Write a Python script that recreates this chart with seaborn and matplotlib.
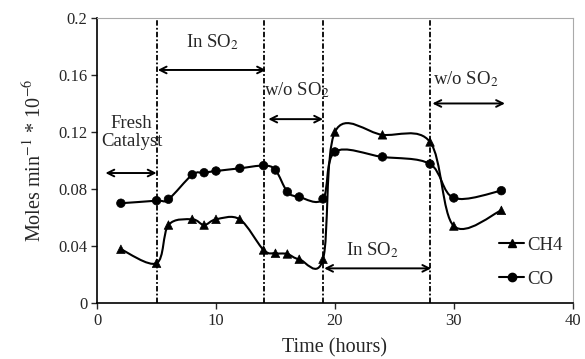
import matplotlib
matplotlib.use("Agg")
import matplotlib.pyplot as plt
from matplotlib.path import Path
from matplotlib.patches import PathPatch
from matplotlib.lines import Line2D
import numpy as np
import pandas as pd
import seaborn as sns

# Data
time_h = [2, 5, 6, 8, 9, 10, 12, 14, 15, 16, 17, 19, 20, 24, 28, 30, 34]
ch4 = [0.0377, 0.0279, 0.0547, 0.0587, 0.0547, 0.0587, 0.0587, 0.0372, 0.0349,
       0.0344, 0.0307, 0.0307, 0.120, 0.118, 0.113, 0.054, 0.065]
co = [0.070, 0.0718, 0.0728, 0.090, 0.0914, 0.0926, 0.0945, 0.0964, 0.0933,
      0.078, 0.0744, 0.073, 0.106, 0.1025, 0.0975, 0.0737, 0.0788]
switch_times = [5, 14, 19, 28]

sns.set_style("ticks")
plt.rcParams["font.family"] = ["Liberation Serif", "DejaVu Serif"]
plt.rcParams["mathtext.fontset"] = "stix"

df = pd.DataFrame({"time": time_h * 2,
                   "value": ch4 + co,
                   "gas": ["CH4"] * len(time_h) + ["CO"] * len(time_h)})


def smooth_path(xs, ys):
    # Excel-style smoothed line: cubic Bezier segments through the points
    pts = np.column_stack([xs, ys])
    n = len(pts)
    verts = [pts[0]]
    codes = [Path.MOVETO]
    for i in range(n - 1):
        p_prev = pts[max(i - 1, 0)]
        p_next2 = pts[min(i + 2, n - 1)]
        c1 = pts[i] + (pts[i + 1] - p_prev) / 6
        c2 = pts[i + 1] - (p_next2 - pts[i]) / 6
        verts += [c1, c2, pts[i + 1]]
        codes += [Path.CURVE4] * 3
    return Path(verts, codes)


fig, ax = plt.subplots(figsize=(5.85, 3.59), dpi=100)
fig.subplots_adjust(left=0.166, right=0.979, bottom=0.156, top=0.95)

for vals in (ch4, co):
    ax.add_patch(PathPatch(smooth_path(time_h, vals), fill=False,
                           edgecolor="black", lw=1.5))

sns.scatterplot(data=df, x="time", y="value", style="gas",
                markers={"CH4": "^", "CO": "o"}, color="black", s=38,
                edgecolor="black", legend=False, ax=ax, zorder=3)

for t in switch_times:
    ax.axvline(t, color="black", lw=1.3, ls=(0, (3, 1.2, 1, 1.2)))


def span_arrow(x0, x1, y):
    ax.annotate("", xy=(x0, y), xytext=(x1, y),
                arrowprops=dict(arrowstyle="<->", color="black", lw=1.4,
                                shrinkA=0, shrinkB=0, mutation_scale=12))


fs = 13.5
span_arrow(0.7, 5.0, 0.0912)
ax.text(2.9, 0.1195, "Fresh\nCatalyst", ha="center", va="center", fontsize=fs,
        linespacing=1.05)
span_arrow(5.1, 14.2, 0.1635)
ax.text(9.7, 0.183, "In SO$_2$", ha="center", va="center", fontsize=fs)
span_arrow(14.4, 19.0, 0.129)
ax.text(16.8, 0.149, "w/o SO$_2$", ha="center", va="center", fontsize=fs)
span_arrow(28.2, 34.3, 0.140)
ax.text(31.0, 0.157, "w/o SO$_2$", ha="center", va="center", fontsize=fs)
span_arrow(19.1, 28.1, 0.0243)
ax.text(23.2, 0.037, "In SO$_2$", ha="center", va="center", fontsize=fs)

ax.set_xlim(0, 40)
ax.set_ylim(0, 0.2)
ax.set_xticks([0, 10, 20, 30, 40])
ax.set_yticks([0, 0.04, 0.08, 0.12, 0.16, 0.2])
ax.set_yticklabels(["0", "0.04", "0.08", "0.12", "0.16", "0.2"])
ax.tick_params(labelsize=12, length=4, width=1, direction="out", pad=3)
ax.set_xlabel("Time (hours)", fontsize=14.5, labelpad=7)
ax.set_ylabel("Moles min$^{-1}$ * 10$^{-6}$", fontsize=14.5, labelpad=9)

for side in ("top", "right"):
    ax.spines[side].set_visible(True)
    ax.spines[side].set_color("#aaaaaa")
for side in ("left", "bottom"):
    ax.spines[side].set_color("black")
    ax.spines[side].set_linewidth(1.2)

handles = [Line2D([], [], color="black", marker="^", markersize=6, lw=1.5),
           Line2D([], [], color="black", marker="o", markersize=6, lw=1.5)]
ax.legend(handles, ["CH4", "CO"], loc="upper left", bbox_to_anchor=(0.83, 0.26),
          frameon=False, fontsize=13.5, handlelength=1.3, handletextpad=0.2,
          labelspacing=0.9, borderaxespad=0)

fig.savefig("out.png", dpi=100)
